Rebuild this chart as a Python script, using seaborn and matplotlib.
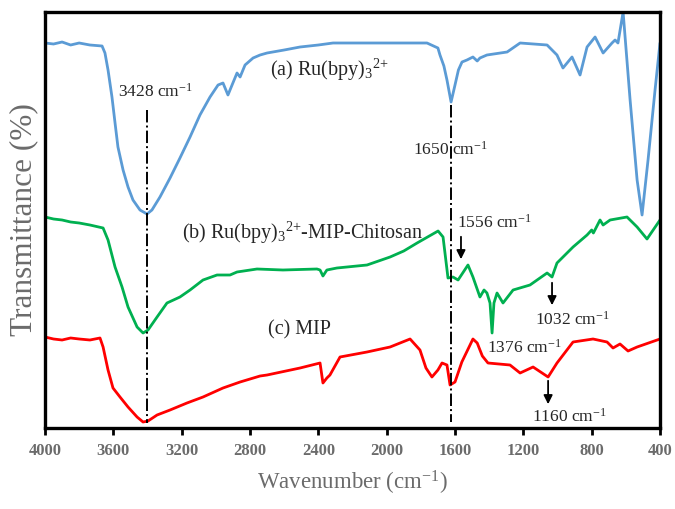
import numpy as np
import pandas as pd
import matplotlib
matplotlib.use("Agg")
import matplotlib.pyplot as plt
import seaborn as sns

# ---- data (wavenumber cm-1, relative transmittance, arbitrary units) ----
wn_a = [4000, 3950, 3900, 3850, 3800, 3737, 3666, 3649, 3631, 3608, 3590, 3573, 3543, 3514,
        3485, 3444, 3403, 3374, 3327, 3268, 3210, 3151, 3093, 3034, 2987, 2958, 2929, 2905,
        2876, 2858, 2829, 2782, 2741, 2700, 2600, 2507, 2400, 2314,
        2000, 1764, 1700, 1688, 1665, 1647, 1623, 1600, 1580, 1559, 1530, 1495, 1470, 1454,
        1413, 1295, 1219, 1061, 1003, 968, 915, 868, 827, 780, 733, 681, 663, 646, 616, 575,
        534, 505, 470, 429, 400]
t_a = [385, 384, 386, 383, 385, 383, 382, 375, 358, 331, 305, 281, 258, 241,
       228, 218, 214, 218, 231, 250, 270, 291, 313, 331, 343, 345, 333, 343,
       355, 351, 363, 370, 373, 375, 378, 381, 383, 385,
       385, 385, 380, 373, 362, 348, 326, 343, 358, 366, 368, 371, 367, 370,
       373, 376, 385, 383, 373, 360, 371, 353, 381, 391, 375, 385, 388, 385, 416, 328,
       248, 213, 268, 338, 385]

wn_b = [4000, 3950, 3900, 3850, 3800, 3737, 3660, 3631, 3590, 3549, 3514, 3461, 3426, 3397,
        3344, 3286, 3210, 3151, 3075, 2993, 2917, 2876, 2759, 2607, 2408, 2390, 2373, 2350,
        2291, 2115, 1980, 1900, 1822, 1699, 1670, 1641, 1612, 1582, 1524, 1495, 1454, 1430,
        1413, 1395, 1383, 1372, 1354, 1319, 1260, 1161, 1061, 1032, 1003, 909, 827, 800,
        790, 751, 733, 692, 593, 534, 476, 400]
t_b = [211, 209, 208, 206, 205, 203, 200, 188, 161, 141, 121, 101, 95, 98,
       111, 125, 131, 138, 148, 153, 153, 156, 159, 158, 159, 158, 152, 158,
       160, 163, 171, 177, 185, 197, 191, 150, 151, 148, 163, 151, 131, 138,
       135, 125, 95, 125, 135, 125, 138, 143, 155, 151, 165, 181, 193, 198,
       195, 208, 203, 208, 211, 201, 189, 208]

wn_c = [4000, 3950, 3900, 3850, 3800, 3737, 3678, 3660, 3631, 3602, 3561, 3514, 3461, 3426,
        3397, 3344, 3268, 3169, 3075, 2958, 2858, 2741, 2700, 2507, 2390, 2373, 2350, 2332,
        2273, 2115, 1980, 1863, 1805, 1770, 1735, 1700, 1676, 1647, 1629, 1600, 1560, 1495,
        1470, 1440, 1407, 1278, 1219, 1143, 1055, 1003, 909, 792, 710, 675, 634, 587, 534, 400]
t_c = [91, 89, 88, 90, 89, 88, 90, 81, 58, 40, 31, 21, 11, 6,
       7, 13, 18, 25, 31, 40, 46, 52, 53, 60, 65, 45, 50, 53,
       71, 76, 81, 89, 78, 60, 51, 58, 65, 63, 43, 46, 66, 89,
       85, 72, 65, 63, 55, 61, 51, 65, 86, 89, 86, 80, 84, 77, 81, 89]

labels = ["(a) Ru(bpy)$_3$$^{2{+}}$", "(b) Ru(bpy)$_3$$^{2{+}}$-MIP-Chitosan", "(c) MIP"]
colors = ["#5B9BD5", "#00B050", "#FF0000"]
x_ticks = [4000, 3600, 3200, 2800, 2400, 2000, 1600, 1200, 800, 400]

df = pd.concat([
    pd.DataFrame({"wn": wn_a, "t": t_a, "s": "a"}),
    pd.DataFrame({"wn": wn_b, "t": t_b, "s": "b"}),
    pd.DataFrame({"wn": wn_c, "t": t_c, "s": "c"}),
])

sns.set_style("white")
plt.rcParams["font.family"] = ["Liberation Serif", "DejaVu Serif"]
plt.rcParams["mathtext.fontset"] = "custom"
plt.rcParams["mathtext.rm"] = "Liberation Serif"
plt.rcParams["mathtext.it"] = "Liberation Serif:italic"

fig = plt.figure(figsize=(6.75, 5.09), dpi=100)
ax = fig.add_axes([45 / 675, 1 - 428 / 509, 615 / 675, 416 / 509])

sns.lineplot(data=df, x="wn", y="t", hue="s", palette=dict(zip("abc", colors)),
             estimator=None, sort=True, lw=2.0, legend=False, ax=ax)
for ln in ax.get_lines():
    ln.set_solid_joinstyle("round")

ax.set_xlim(4000, 400)
ax.set_ylim(0, 416)
ax.set_xticks(x_ticks)
ax.set_xticklabels([str(v) for v in x_ticks], fontsize=12, fontweight="bold", color="#6b6b6b")
ax.set_yticks([])
ax.tick_params(axis="x", direction="out", length=5, width=2, color="black", pad=6, bottom=True)
for sp in ax.spines.values():
    sp.set_color("black")
    sp.set_linewidth(2.4)
ax.set_xlabel("Wavenumber (cm$^{-1}$)", fontsize=16.5, color="#6b6b6b", labelpad=7)
ax.set_ylabel("Transmittance (%)", fontsize=22.5, color="#6b6b6b", labelpad=5)

fs = 12.5
# dash-dot reference lines
ax.plot([3403, 3403], [318, 5], color="black", lw=1.4, ls="-.")
ax.plot([1623, 1623], [323, 6], color="black", lw=1.4, ls="-.")

ax.text(3356, 336, "3428 cm$^{-1}$", fontsize=fs, ha="center", va="center")
ax.text(1629, 278, "1650 cm$^{-1}$", fontsize=fs, ha="center", va="center")
ax.text(2683, 358, labels[0], fontsize=14.5, ha="left", va="center")
ax.text(3198, 195, labels[1], fontsize=14.5, ha="left", va="center")
ax.text(2694, 98, labels[2], fontsize=14.5, ha="left", va="center")
ax.text(1588, 205, "1556 cm$^{-1}$", fontsize=fs, ha="left", va="center")
ax.text(1132, 108, "1032 cm$^{-1}$", fontsize=fs, ha="left", va="center")
ax.text(1413, 80, "1376 cm$^{-1}$", fontsize=fs, ha="left", va="center")
ax.text(1149, 11, "1160 cm$^{-1}$", fontsize=fs, ha="left", va="center")

arrow = dict(arrowstyle="-|>", color="black", lw=1.3, mutation_scale=13)
ax.annotate("", xy=(1565, 166), xytext=(1565, 194), arrowprops=arrow)
ax.annotate("", xy=(1032, 120), xytext=(1032, 148), arrowprops=arrow)
ax.annotate("", xy=(1055, 21), xytext=(1055, 50), arrowprops=arrow)

fig.savefig("out.png", dpi=100)
